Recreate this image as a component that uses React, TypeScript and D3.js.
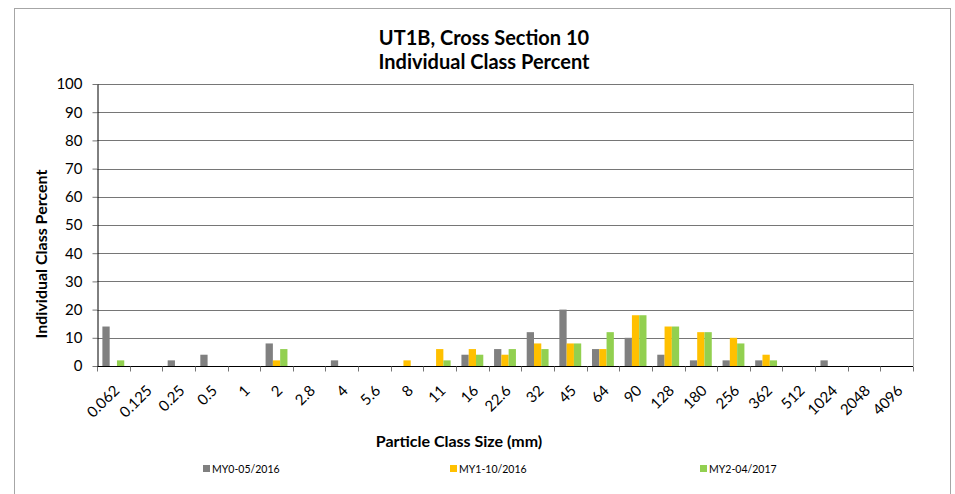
import * as d3 from "d3";
import { useEffect, useRef } from "react";

const sizes = [
  "0.062", "0.125", "0.25", "0.5", "1", "2", "2.8", "4", "5.6", "8", "11", "16",
  "22.6", "32", "45", "64", "90", "128", "180", "256", "362", "512", "1024",
  "2048", "4096",
];

const seriesNames = ["MY0-05/2016", "MY1-10/2016", "MY2-04/2017"];
const seriesColors = ["#808080", "#ffc000", "#92d050"];

const my0 = [14, 0, 2, 4, 0, 8, 0, 2, 0, 0, 0, 4, 6, 12, 20, 6, 10, 4, 2, 2, 2, 0, 2, 0, 0];
const my1 = [0, 0, 0, 0, 0, 2, 0, 0, 0, 2, 6, 6, 4, 8, 8, 6, 18, 14, 12, 10, 4, 0, 0, 0, 0];
const my2 = [2, 0, 0, 0, 0, 6, 0, 0, 0, 0, 2, 4, 6, 6, 8, 12, 18, 14, 12, 8, 2, 0, 0, 0, 0];

const yTicks = [0, 10, 20, 30, 40, 50, 60, 70, 80, 90, 100];

const FONT = "Lato, 'Liberation Sans', sans-serif";

export default function App({
  width = 955,
  height = 494,
  marginTop = 84,
  marginRight = 42,
  marginBottom = 128,
  marginLeft = 97,
}) {
  const ref = useRef<SVGSVGElement | null>(null);

  useEffect(() => {
    const svg = d3.select(ref.current);
    svg.selectAll("*").remove();

    const innerWidth = width - marginLeft - marginRight;
    const innerHeight = height - marginTop - marginBottom;
    const values = [my0, my1, my2];

    svg.attr("width", width).attr("height", height).style("font-family", FONT);

    // outer chart border
    svg
      .append("rect")
      .attr("x", 14.5)
      .attr("y", 8.5)
      .attr("width", 936)
      .attr("height", 500)
      .attr("fill", "#fff")
      .attr("stroke", "#a6a6a6");

    const g = svg
      .append("g")
      .attr("transform", `translate(${marginLeft},${marginTop})`);

    // ===== Scales =====
    const x0 = d3.scaleBand().domain(sizes).range([0, innerWidth]).padding(0);
    const x1 = d3
      .scaleBand()
      .domain(seriesNames)
      .range([0, x0.bandwidth()])
      .paddingInner(0)
      .paddingOuter(0.74);
    const y = d3.scaleLinear().domain([0, 100]).range([innerHeight, 0]);

    // ===== Gridlines =====
    g.append("g")
      .selectAll("line")
      .data(yTicks.filter((t) => t > 0))
      .enter()
      .append("line")
      .attr("x1", 0)
      .attr("x2", innerWidth)
      .attr("y1", (d) => Math.round(y(d)) + 0.5)
      .attr("y2", (d) => Math.round(y(d)) + 0.5)
      .attr("stroke", "#767676");

    // right plot border
    g.append("line")
      .attr("x1", innerWidth + 0.5)
      .attr("x2", innerWidth + 0.5)
      .attr("y1", 0)
      .attr("y2", innerHeight)
      .attr("stroke", "#b0b0b0");

    // ===== Bars =====
    const groups = g
      .selectAll(".size-group")
      .data(sizes)
      .enter()
      .append("g")
      .attr("transform", (d) => `translate(${x0(d)},0)`);

    groups
      .selectAll("rect")
      .data((_d, i) => seriesNames.map((s, k) => ({ key: s, value: values[k][i], k })))
      .enter()
      .append("rect")
      .attr("x", (d) => x1(d.key)!)
      .attr("y", (d) => y(d.value))
      .attr("width", x1.bandwidth())
      .attr("height", (d) => innerHeight - y(d.value))
      .attr("fill", (d) => seriesColors[d.k]);

    // ===== Axes =====
    const yAxis = g
      .append("g")
      .attr("transform", "translate(0.5,0)")
      .call(d3.axisLeft(y).tickValues(yTicks).tickSize(5).tickSizeOuter(0));
    yAxis.select(".domain").attr("stroke", "#000");
    yAxis.selectAll(".tick line").attr("stroke", "#767676");
    yAxis
      .selectAll("text")
      .attr("x", -15)
      .style("font-size", "15px")
      .style("font-family", FONT)
      .attr("fill", "#000");

    const xAxis = g
      .append("g")
      .attr("transform", `translate(0,${innerHeight + 0.5})`);
    xAxis
      .append("line")
      .attr("x1", 0)
      .attr("x2", innerWidth)
      .attr("stroke", "#000");
    xAxis
      .selectAll(".tk")
      .data(d3.range(sizes.length + 1))
      .enter()
      .append("line")
      .attr("x1", (i) => Math.round(i * x0.step()) + 0.5)
      .attr("x2", (i) => Math.round(i * x0.step()) + 0.5)
      .attr("y1", 0)
      .attr("y2", 5)
      .attr("stroke", "#767676");
    xAxis
      .selectAll(".lbl")
      .data(sizes)
      .enter()
      .append("text")
      .attr(
        "transform",
        (d) => `translate(${x0(d)! + x0.bandwidth() / 2 + 7},${25}) rotate(-45)`,
      )
      .attr("text-anchor", "end")
      .style("font-size", "15px")
      .text((d) => d);

    // ===== Titles =====
    svg
      .append("text")
      .attr("x", 484)
      .attr("y", 45)
      .attr("text-anchor", "middle")
      .style("font-size", "20px")
      .style("font-weight", "bold")
      .text("UT1B, Cross Section 10");
    svg
      .append("text")
      .attr("x", 484)
      .attr("y", 69)
      .attr("text-anchor", "middle")
      .style("font-size", "20px")
      .style("font-weight", "bold")
      .text("Individual Class Percent");

    svg
      .append("text")
      .attr("transform", `translate(47,254) rotate(-90)`)
      .attr("text-anchor", "middle")
      .style("font-size", "16px")
      .style("font-weight", "bold")
      .text("Individual Class Percent");

    svg
      .append("text")
      .attr("x", 459)
      .attr("y", 447)
      .attr("text-anchor", "middle")
      .style("font-size", "16px")
      .style("font-weight", "bold")
      .text("Particle Class Size (mm)");

    // ===== Legend =====
    const legendX = [203, 450, 700];
    seriesNames.forEach((name, i) => {
      svg
        .append("rect")
        .attr("x", legendX[i])
        .attr("y", 465)
        .attr("width", 7)
        .attr("height", 7)
        .attr("fill", seriesColors[i]);
      svg
        .append("text")
        .attr("x", legendX[i] + 9)
        .attr("y", 472.5)
        .style("font-size", "10.5px")
        .text(name);
    });
  }, [width, height, marginTop, marginRight, marginBottom, marginLeft]);

  return (
    <svg
      ref={ref}
      style={{ position: "absolute", left: 0, top: 0, display: "block" }}
    >
      <title>UT1B Cross Section 10 chart</title>
    </svg>
  );
}
